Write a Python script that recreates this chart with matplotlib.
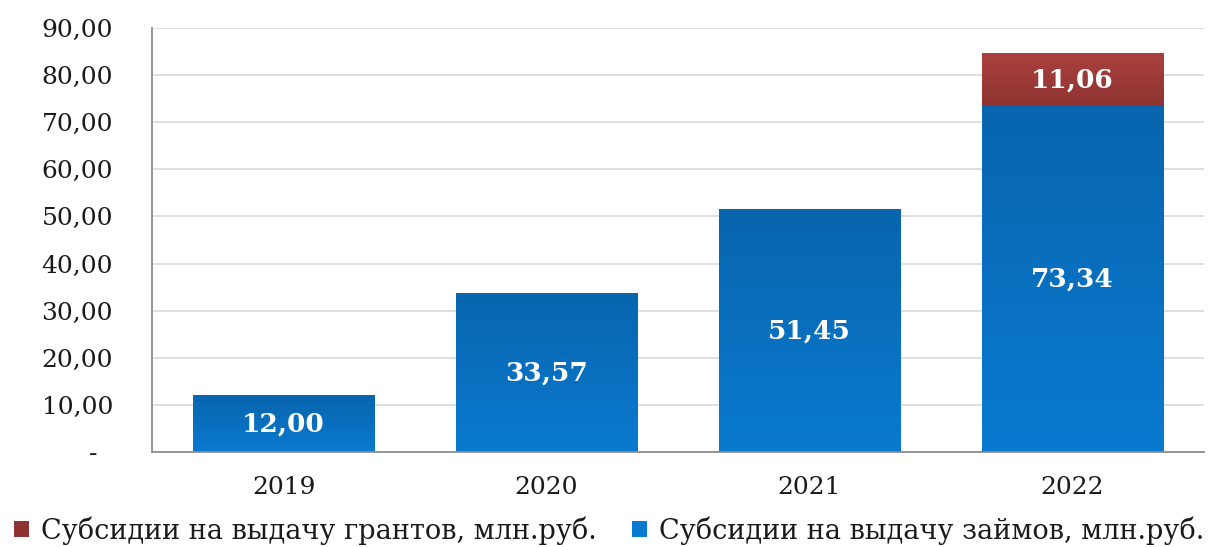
import numpy as np
import matplotlib
matplotlib.use("Agg")
import matplotlib.pyplot as plt
from matplotlib.colors import LinearSegmentedColormap
from matplotlib.patches import Patch

years = ["2019", "2020", "2021", "2022"]
loans = [12.00, 33.57, 51.45, 73.34]
grants = [0.0, 0.0, 0.0, 11.06]
yticks = [0, 10, 20, 30, 40, 50, 60, 70, 80, 90]
ytick_labels = ["-  ", "10,00", "20,00", "30,00", "40,00", "50,00",
                "60,00", "70,00", "80,00", "90,00"]
legend_labels = ["Субсидии на выдачу грантов, млн.руб.",
                 "Субсидии на выдачу займов, млн.руб."]

plt.rcParams["font.family"] = ["DejaVu Serif", "Liberation Serif"]

BLUE_TOP, BLUE_BOT = "#0865AE", "#0A7AD0"
RED_TOP, RED_BOT = "#AA413E", "#8E3331"


def fmt(v):
    return f"{v:.2f}".replace(".", ",")


def gradient_bar(ax, x, bottom, height, width, top_color, bot_color):
    cmap = LinearSegmentedColormap.from_list("g", [bot_color, top_color])
    grad = np.linspace(0, 1, 256).reshape(-1, 1)
    ax.imshow(grad, cmap=cmap, origin="lower", aspect="auto",
              extent=(x - width / 2, x + width / 2, bottom, bottom + height),
              zorder=2)


fig = plt.figure(figsize=(12.18, 5.47), dpi=100)
ax = fig.add_axes([0.1248, 0.1737, 0.8637, 0.7751])

x = np.arange(len(years))
width = 0.69
for i in x:
    gradient_bar(ax, i, 0, loans[i], width, BLUE_TOP, BLUE_BOT)
    ax.text(i, loans[i] / 2, fmt(loans[i]), ha="center", va="center",
            color="white", fontsize=19, fontweight="bold", zorder=3)
    if grants[i] > 0:
        gradient_bar(ax, i, loans[i], grants[i], width, RED_TOP, RED_BOT)
        ax.text(i, loans[i] + grants[i] / 2, fmt(grants[i]), ha="center",
                va="center", color="white", fontsize=19, fontweight="bold",
                zorder=3)

ax.set_xlim(-0.5, len(years) - 0.5)
ax.set_ylim(0, 90)
ax.set_xticks(x)
ax.set_xticklabels(years)
ax.set_yticks(yticks)
ax.set_yticklabels(ytick_labels)
ax.tick_params(axis="both", length=0, labelsize=18, colors="#1a1a1a")
ax.tick_params(axis="x", pad=17)
ax.tick_params(axis="y", pad=28)
ax.grid(axis="y", color="#D9D9D9", linewidth=1.2, zorder=0)
ax.set_axisbelow(True)
for side in ("top", "right"):
    ax.spines[side].set_visible(False)
for side in ("left", "bottom"):
    ax.spines[side].set_color("#8C8C8C")
    ax.spines[side].set_linewidth(1.3)

handles = [Patch(facecolor=RED_BOT, edgecolor="none"),
           Patch(facecolor=BLUE_BOT, edgecolor="none")]
fig.legend(handles, legend_labels, loc="lower center",
           bbox_to_anchor=(0.5, -0.04), ncol=2, frameon=False,
           fontsize=19.5, handlelength=0.55, handleheight=0.55,
           handletextpad=0.45, columnspacing=1.3, labelcolor="#1a1a1a")

fig.savefig("out.png", dpi=100)
